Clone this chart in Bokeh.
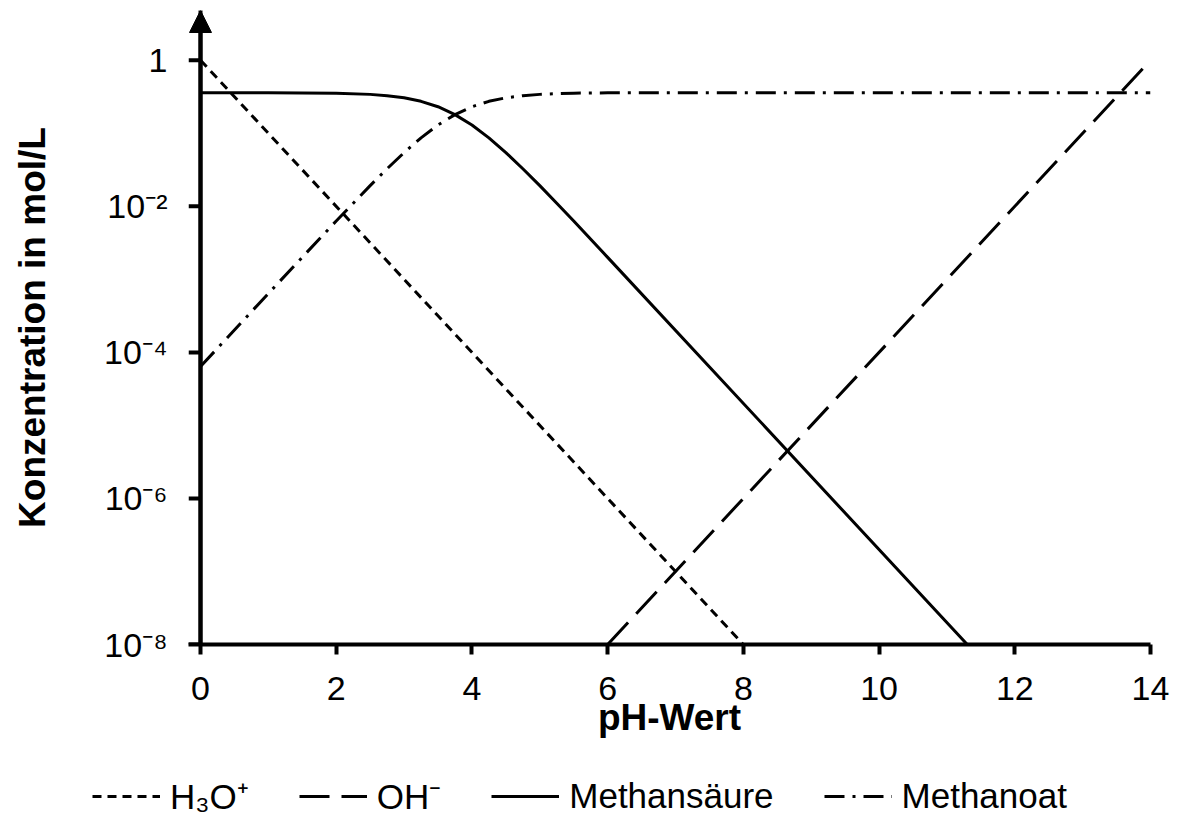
from bokeh.plotting import figure
from bokeh.layouts import column
from bokeh.models import Range1d, FixedTicker, Legend, LegendItem, Arrow, NormalHead
from bokeh.embed import file_html
from bokeh.resources import INLINE

# ---- data ----
x_ticks = [0, 2, 4, 6, 8, 10, 12, 14]
y_ticks = [1e-8, 1e-6, 1e-4, 1e-2, 1]
y_tick_labels = ["10⁻⁸", "10⁻⁶", "10⁻⁴", "10⁻²", "1"]

ph_h3o = [0, 8]
c_h3o = [1.0, 1e-8]

ph_oh = [6, 14]
c_oh = [1e-8, 1.0]

ph_acid = [0, 1, 2, 2.5, 2.75, 3, 3.25, 3.5, 3.75, 4, 4.25, 4.5, 4.75, 5, 5.25, 5.5, 6, 11.3]
c_acid = [0.36, 0.359, 0.354, 0.341, 0.327, 0.306, 0.274, 0.231, 0.18, 0.130, 0.0865,
          0.0544, 0.0327, 0.0192, 0.0110, 0.0063, 0.0020, 1.0e-8]

ph_base = [0, 1, 2, 2.5, 2.75, 3, 3.25, 3.5, 3.75, 4, 4.25, 4.5, 4.75, 5, 5.25, 5.5, 6, 14]
c_base = [6.4e-5, 6.4e-4, 6.3e-3, 0.0192, 0.0327, 0.0544, 0.0865, 0.130, 0.18, 0.231, 0.274,
          0.306, 0.327, 0.341, 0.349, 0.354, 0.358, 0.36]

series_names = ["H₃O⁺", "OH⁻", "Methansäure", "Methanoat"]
series_dash = ["9 6", "30 12", "solid", "20 8 3 8"]

FONT = "Liberation Sans"
Y_TOP = 4.8
X_START = -0.177

p = figure(width=1180, height=770,
           x_range=Range1d(X_START, 14), y_range=Range1d(1e-8, Y_TOP),
           y_axis_type="log",
           output_backend="svg", toolbar_location=None)
p.min_border_left = 188
p.min_border_right = 30
p.min_border_top = 10
p.min_border_bottom = 126
p.outline_line_color = None
p.xgrid.grid_line_color = None
p.ygrid.grid_line_color = None
p.background_fill_color = "white"
p.border_fill_color = "white"

series = [(ph_h3o, c_h3o), (ph_oh, c_oh), (ph_acid, c_acid), (ph_base, c_base)]
for (xs, ys), dash in zip(series, series_dash):
    p.line(xs, ys, line_color="black", line_width=3, line_dash=dash)

# vertical axis line at pH 0 with its ticks, and the arrow head on top
p.segment(x0=[0], y0=[y_ticks[0]], x1=[0], y1=[Y_TOP], line_color="black", line_width=4)
p.segment(x0=[X_START] * len(y_ticks), y0=y_ticks, x1=[0] * len(y_ticks), y1=y_ticks,
          line_color="black", line_width=4)
p.add_layout(Arrow(end=NormalHead(size=22, fill_color="black", line_color="black"),
                   x_start=0, y_start=1e-8, x_end=0, y_end=Y_TOP,
                   line_color="black", line_width=4))

for ax in (p.xaxis[0], p.yaxis[0]):
    ax.axis_line_width = 4
    ax.axis_line_color = "black"
    ax.major_tick_line_width = 4
    ax.major_tick_line_color = "black"
    ax.major_tick_out = 10
    ax.major_tick_in = 0
    ax.minor_tick_line_color = None
    ax.major_label_text_font = FONT
    ax.major_label_text_font_size = "34px"
    ax.major_label_text_color = "black"
    ax.axis_label_text_font = FONT
    ax.axis_label_text_font_style = "bold"
    ax.axis_label_text_font_size = "37px"
    ax.axis_label_text_color = "black"

p.xaxis.ticker = FixedTicker(ticks=x_ticks)
p.xaxis.axis_label = "pH-Wert"
p.xaxis.major_label_standoff = 22
p.xaxis.axis_label_standoff = -6

p.yaxis.ticker = FixedTicker(ticks=y_ticks, minor_ticks=[])
p.yaxis.major_label_overrides = {v: s for v, s in zip(y_ticks, y_tick_labels)}
p.yaxis.axis_label = "Konzentration in mol/L"
p.yaxis.axis_line_color = None
p.yaxis.major_tick_line_color = None
p.yaxis.major_tick_out = 0
p.yaxis.major_label_standoff = 21
p.yaxis.axis_label_standoff = 48

# legend strip below the chart; its lines hold the same series but lie outside its view
lf = figure(width=1180, height=53, x_range=Range1d(100, 101), y_range=Range1d(100, 101),
            output_backend="svg", toolbar_location=None)
lf.frame_align = False
lf.min_border = 0
lf.axis.visible = False
lf.xgrid.grid_line_color = None
lf.ygrid.grid_line_color = None
lf.outline_line_color = None
lf.background_fill_color = "white"
lf.border_fill_color = "white"
leg_renderers = [lf.line(xs, ys, line_color="black", line_width=3, line_dash=d)
                 for (xs, ys), d in zip(series, series_dash)]

legend = Legend(items=[LegendItem(label=n, renderers=[r]) for n, r in zip(series_names, leg_renderers)],
                orientation="horizontal", location=(92, 4),
                glyph_width=68, glyph_height=20, label_standoff=10, spacing=50,
                label_text_font=FONT, label_text_font_size="35px", label_text_color="black",
                border_line_color=None, background_fill_alpha=0, padding=0, margin=0)
lf.add_layout(legend, "center")

open("out.html", "w").write(file_html(column(p, lf, spacing=0), INLINE))
